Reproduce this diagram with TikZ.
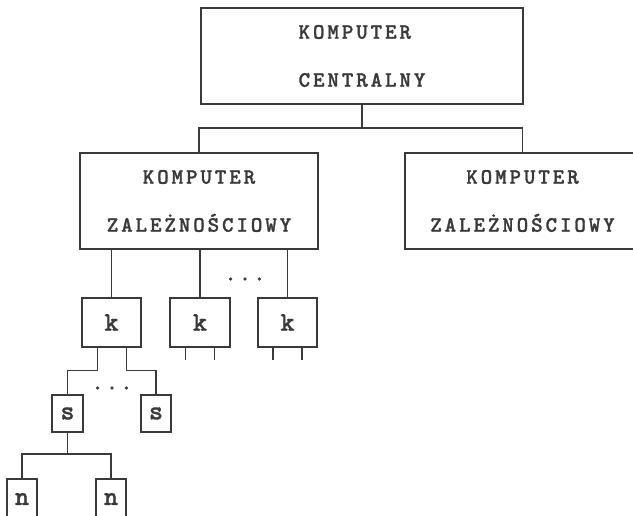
\documentclass[tikz,border=0pt]{standalone}
\usepackage{fontspec}
\newfontfamily\drukfont{lmmonolt10-bold.otf}[LetterSpace=13, FakeBold=1.2]
\usepackage{tikz}
\definecolor{linia}{HTML}{3A3A3A}

\tikzset{
  pol/.style={draw=linia, line width=1.2pt},
  blok/.style={pol, rectangle, inner sep=0pt, text=linia,
    font=\drukfont\fontsize{22}{48}\selectfont},
  maly/.style={pol, rectangle, inner sep=0pt, text=linia,
    font=\drukfont\fontsize{27}{27}\selectfont},
  kropki/.style={text=linia, inner sep=0pt, font=\drukfont\fontsize{22}{22}\selectfont}
}

\begin{document}
\begin{tikzpicture}[x=1pt, y=-1pt]
    \useasboundingbox (0,0) rectangle (633,516);
    \clip (0,0) rectangle (633,516);

    % Computers
    \node[blok, minimum width=322pt, minimum height=96pt, align=left] (central) at (362,56) {KOMPUTER\\CENTRALNY};
    \node[blok, minimum width=238pt, minimum height=96pt, align=center] (zalL) at (199,201) {KOMPUTER\\ZALEŻNOŚCIOWY};
    \node[blok, minimum width=235pt, minimum height=96pt, align=center] (zalR) at (522.5,201) {KOMPUTER\\ZALEŻNOŚCIOWY};

    % Bus below the central computer
    \coordinate (szyna) at (362,128);
    \draw[pol] (central.south) -- (szyna);
    \draw[pol] (zalL.north) |- (szyna) -| (zalR.north);

    % k level
    \node[maly, minimum width=59pt, minimum height=49pt] (k1) at (111.5,322.5) {k};
    \node[maly, minimum width=60pt, minimum height=49pt] (k2) at (200,322.5) {k};
    \node[maly, minimum width=59pt, minimum height=49pt] (k3) at (287.5,322.5) {k};
    \node[kropki] (kropkiK) at (245,279) {...};
    \foreach \k in {k1,k2,k3}
        \draw[pol] (\k.north) -- (\k.north |- zalL.south);
    \foreach \k in {k2,k3} {
        \draw[pol] ([xshift=-14.5pt]\k.south) -- ++(0,12);
        \draw[pol] ([xshift=14.5pt]\k.south) -- ++(0,12);
    }

    % s level
    \node[maly, minimum width=31pt, minimum height=37pt] (s1) at (67.5,413.5) {s};
    \node[maly, minimum width=30pt, minimum height=37pt] (s2) at (156,413.5) {s};
    \node[kropki] (kropkiS) at (112,388) {...};
    \draw[pol] ([xshift=-14pt]k1.south) -- ++(0,23) -| (s1.north);
    \draw[pol] ([xshift=15pt]k1.south) -- ++(0,23) -| (s2.north);

    % n level
    \node[maly, minimum width=30pt, minimum height=40pt] (n1) at (22,499) {n};
    \node[maly, minimum width=30pt, minimum height=40pt] (n2) at (111,499) {n};
    \coordinate (szynaN) at (67.5,454);
    \draw[pol] (s1.south) -- (szynaN);
    \draw[pol] (n1.north) |- (szynaN) -| (n2.north);
\end{tikzpicture}
\end{document}
